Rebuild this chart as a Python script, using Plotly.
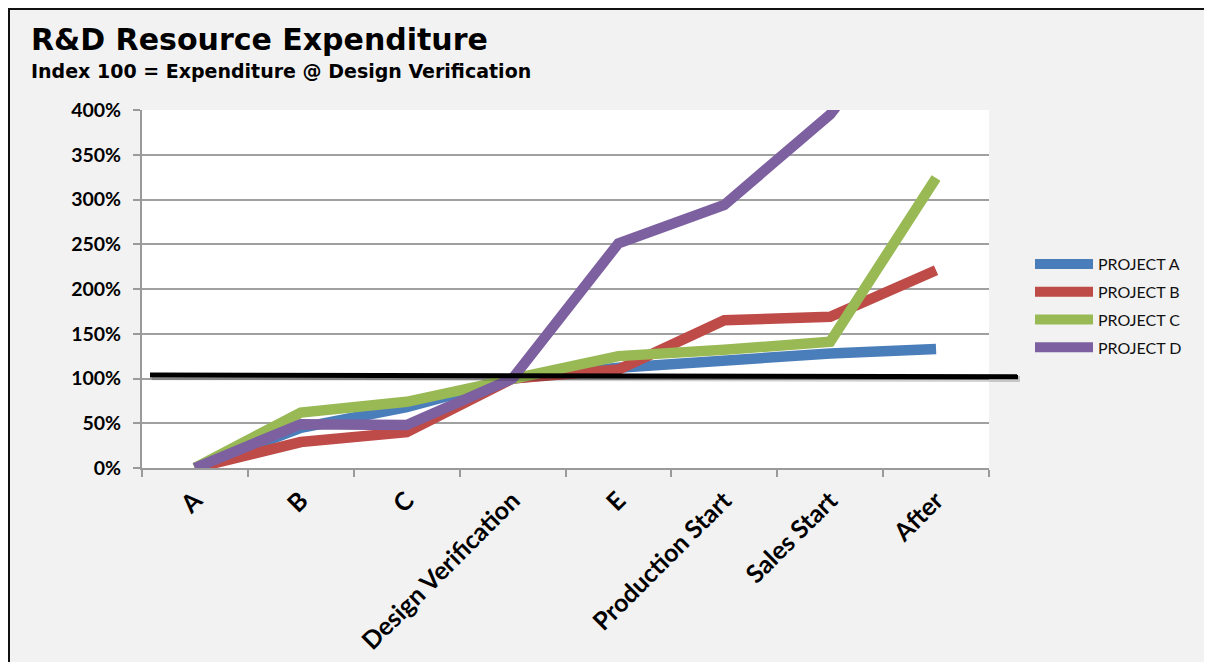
import plotly.graph_objects as go

categories = ["A", "B", "C", "Design Verification", "E", "Production Start", "Sales Start", "After"]
project_a = [0, 45, 68, 100, 112, 121, 128, 133]
project_b = [0, 29, 40, 100, 110, 165, 169, 221]
project_c = [0, 62, 74, 100, 125, 132, 141, 324]
project_d = [0, 49, 48, 100, 251, 294, 395, 550]
series_names = ["PROJECT A", "PROJECT B", "PROJECT C", "PROJECT D"]
series_values = [project_a, project_b, project_c, project_d]
colors = ["#4a7ebb", "#be4b48", "#98b954", "#7d60a0"]
ref_line = [104, 102]  # hand-drawn index-100 reference line (left, right)

W, H = 1212, 662
L, R, T, B = 134, W - 981, 102, H - 460
PW, PH = W - L - R, H - T - B

def px(x):
    return (x - L) / PW

def py(y):
    return (H - B - y) / PH

fig = go.Figure()
for name, vals, col in zip(series_names, series_values, colors):
    fig.add_trace(go.Scatter(
        x=categories, y=vals, name=name, mode="lines",
        line=dict(color=col, width=10.5), legendgroup=name,
    ))

shapes = []
# black border along the top and left edges
shapes.append(dict(type="rect", xref="paper", yref="paper", x0=px(0.5), x1=px(W + 30), y0=py(H + 30), y1=py(0.5),
                   fillcolor="rgba(0,0,0,0)", line=dict(color="#111111", width=3), layer="above"))
# reference line shadow and line
shapes.append(dict(type="line", xref="paper", yref="y", x0=px(144), x1=px(1012), y0=ref_line[0] - 2.5, y1=ref_line[1] - 2.5,
                   line=dict(color="rgba(0,0,0,0.18)", width=6), layer="above"))
shapes.append(dict(type="line", xref="paper", yref="y", x0=px(142), x1=px(1010), y0=ref_line[0], y1=ref_line[1],
                   line=dict(color="#000000", width=5), layer="above"))

annotations = [
    dict(text="<b>R&D Resource Expenditure</b>", xref="paper", yref="paper", x=px(21), y=py(31),
         xanchor="left", yanchor="middle", showarrow=False,
         font=dict(family="DejaVu Sans", size=30, color="#000000")),
    dict(text="<b>Index 100 = Expenditure @ Design Verification</b>", xref="paper", yref="paper", x=px(21), y=py(63),
         xanchor="left", yanchor="middle", showarrow=False,
         font=dict(family="DejaVu Sans", size=19, color="#000000")),
]

fig.update_layout(
    width=W, height=H,
    margin=dict(l=L, r=R, t=T, b=B, autoexpand=False),
    paper_bgcolor="#f2f2f2", plot_bgcolor="#ffffff",
    shapes=shapes, annotations=annotations,
    showlegend=True,
    legend=dict(x=px(1022), y=py(298), xanchor="left", yanchor="middle", itemwidth=58,
                bgcolor="rgba(0,0,0,0)", font=dict(family="Lato", size=16, color="#111111"),
                tracegroupgap=4),
    xaxis=dict(type="category", showgrid=False, showline=True, linecolor="#9a9a9a", linewidth=2,
               ticks="outside", tickson="boundaries", ticklen=7, tickcolor="#9a9a9a", tickwidth=2,
               tickangle=-45, ticklabelstandoff=6,
               tickfont=dict(family="Lato", size=25, color="#000000", weight="bold"),
               range=[-0.5, 7.5]),
    yaxis=dict(range=[0, 400], dtick=50, ticksuffix="%", showgrid=True, gridcolor="#a0a0a0", gridwidth=2,
               showline=True, linecolor="#9a9a9a", linewidth=2, ticks="outside", ticklen=7,
               tickcolor="#9a9a9a", tickwidth=2, zeroline=False, ticklabelstandoff=8,
               tickfont=dict(family="Lato", size=19.5, color="#000000", weight="bold")),
)

fig.write_html("out.html")
